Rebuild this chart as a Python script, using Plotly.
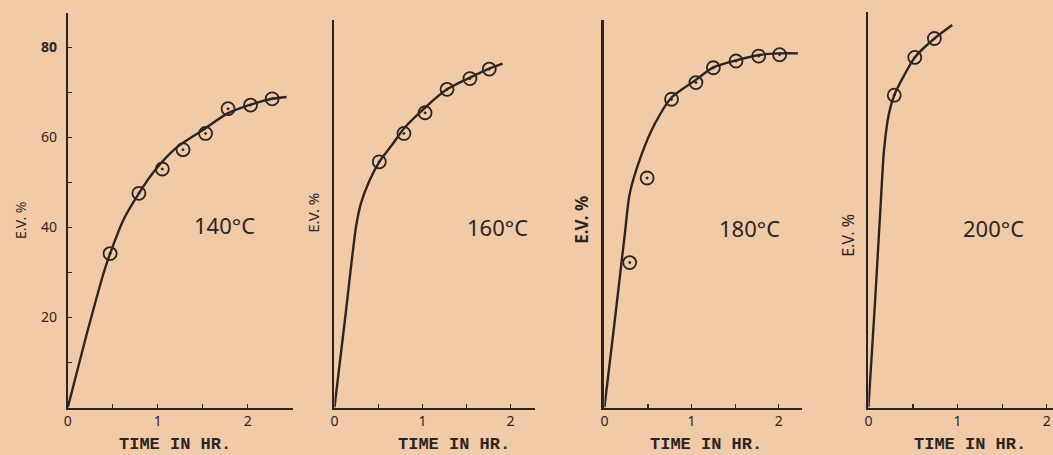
import plotly.graph_objects as go

# ---------------- data ----------------
temps = ["140°C", "160°C", "180°C", "200°C"]

# measured points (time in hr, E.V. %)
pts140_t = [0.47, 0.79, 1.05, 1.28, 1.53, 1.78, 2.03, 2.27]
pts140_y = [34.2, 47.6, 53.0, 57.3, 60.9, 66.4, 67.2, 68.6]
pts160_t = [0.51, 0.79, 1.03, 1.28, 1.54, 1.76]
pts160_y = [54.6, 60.9, 65.5, 70.7, 73.1, 75.2]
pts180_t = [0.29, 0.49, 0.77, 1.05, 1.25, 1.51, 1.77, 2.01]
pts180_y = [32.2, 51.0, 68.5, 72.2, 75.5, 77.0, 78.1, 78.4]
pts200_t = [0.29, 0.52, 0.74]
pts200_y = [69.4, 77.8, 82.0]

# drawn smooth curves
crv140_t = [0, 0.2, 0.4, 0.47, 0.62, 0.79, 0.96, 1.21, 1.51, 1.77, 2.03, 2.27, 2.43]
crv140_y = [0, 15.5, 30.0, 34.2, 41.8, 47.6, 52.5, 57.8, 61.8, 65.3, 67.3, 68.6, 69.0]
crv160_t = [0, 0.12, 0.245, 0.30, 0.40, 0.51, 0.66, 0.79, 1.04, 1.28, 1.54, 1.76, 1.91]
crv160_y = [0, 19.6, 40.1, 45.3, 50.5, 54.6, 58.5, 62.0, 66.8, 70.7, 73.3, 75.3, 76.4]
crv180_t = [0, 0.12, 0.235, 0.29, 0.43, 0.58, 0.77, 1.04, 1.25, 1.52, 1.80, 2.00, 2.22]
crv180_y = [0, 19.5, 38.7, 47.5, 56.4, 63.1, 68.9, 72.7, 75.6, 77.2, 78.4, 78.7, 78.7]
crv200_t = [0, 0.07, 0.14, 0.175, 0.23, 0.29, 0.40, 0.52, 0.74, 0.94]
crv200_y = [0, 22.0, 46.0, 57.2, 65.3, 69.4, 73.8, 77.8, 82.0, 85.0]

y_tickvals = [20, 40, 60, 80]
y_ticktext = ["20", "40", "60", "<b>80</b>"]
x_tickvals = [0, 1, 2]
x_ticktext = ["0", "1", "2"]
x_title = "TIME IN HR."
y_title = "E.V. %"

points = [(pts140_t, pts140_y), (pts160_t, pts160_y), (pts180_t, pts180_y), (pts200_t, pts200_y)]
curves = [(crv140_t, crv140_y), (crv160_t, crv160_y), (crv180_t, crv180_y), (crv200_t, crv200_y)]

# ---------------- styling / layout ----------------
W, H = 1053, 455
PAPER = "#f1caa8"
INK = "#2b2522"

# pixel geometry of each panel: (x0, x1, xmax, ytop)
panels = [
    (64.0, 290.0, 2.5, 13.0),
    (331.7, 532.7, 2.276, 20.0),
    (602.7, 800.7, 2.263, 20.0),
    (867.7, 1053.0, 2.07, 11.7),
]
Y0 = 407.5
PX_PER_UNIT = 4.5

fig = go.Figure()
for i, ((ct, cy), (pt, py)) in enumerate(zip(curves, points)):
    xa = "x" if i == 0 else f"x{i+1}"
    ya = "y" if i == 0 else f"y{i+1}"
    fig.add_trace(go.Scatter(x=ct, y=cy, mode="lines", xaxis=xa, yaxis=ya,
                             line=dict(color=INK, width=2.4, shape="spline", smoothing=0.7),
                             showlegend=False, hoverinfo="skip"))
    fig.add_trace(go.Scatter(x=pt, y=py, mode="markers", xaxis=xa, yaxis=ya,
                             marker=dict(symbol="circle-open-dot", size=13, color=INK,
                                         line=dict(color=INK, width=1.8)),
                             showlegend=False, hoverinfo="skip"))

layout = dict(width=W, height=H, margin=dict(l=0, r=0, t=0, b=0),
              paper_bgcolor=PAPER, plot_bgcolor=PAPER, showlegend=False)

for i, (x0, x1, xmax, ytop) in enumerate(panels):
    sx = "" if i == 0 else str(i + 1)
    ymax = (Y0 - ytop) / PX_PER_UNIT
    layout["xaxis" + sx] = dict(
        domain=[x0 / W, min(x1 / W, 1.0)], range=[0, xmax], anchor="y" + sx,
        showgrid=False, zeroline=False, showline=True, linecolor=INK, linewidth=2,
        tickvals=x_tickvals, ticktext=x_ticktext, ticks="inside", ticklen=4,
        tickwidth=1.2, tickcolor=INK,
        minor=dict(dtick=0.5, tick0=0, ticks="inside", ticklen=4, tickwidth=1.2, tickcolor=INK),
        tickfont=dict(family="Noto Sans, DejaVu Sans", size=14, color=INK),
        fixedrange=True)
    yax = dict(
        domain=[(H - Y0) / H, (H - ytop) / H], range=[0, ymax], anchor="x" + sx,
        showgrid=False, zeroline=False, showline=True, linecolor=INK,
        linewidth=3 if i == 2 else 2, fixedrange=True)
    if i == 0:
        yax.update(tickvals=y_tickvals, ticktext=y_ticktext, ticks="inside", ticklen=4,
                   tickwidth=1.2, tickcolor=INK, ticklabelstandoff=6,
                   minor=dict(dtick=10, tick0=0, ticks="inside", ticklen=4, tickwidth=1.2, tickcolor=INK),
                   tickfont=dict(family="Noto Sans, DejaVu Sans", size=14, color=INK))
    else:
        yax.update(showticklabels=False, ticks="")
    layout["yaxis" + sx] = yax

anns = []
time_x = [171.7, 451.7, 705.0, 970.0]
temp_pos = [(221, 225), (495, 227), (748, 228), (993, 228)]
ev_pos = [(17, 220, 14, False), (310, 213, 15, False), (580, 220, 17, True), (847, 235, 16, False)]
for i in range(4):
    anns.append(dict(x=time_x[i] / W, y=(H - 444) / H, xref="paper", yref="paper",
                     xanchor="center", yanchor="middle",
                     text=f"<b>{x_title}</b>", showarrow=False,
                     font=dict(family="Liberation Mono, DejaVu Sans Mono", size=17, color=INK)))
    tx, ty = temp_pos[i]
    anns.append(dict(x=tx / W, y=(H - ty) / H, xref="paper", yref="paper",
                     xanchor="center", yanchor="middle",
                     text=temps[i], showarrow=False,
                     font=dict(family="Noto Sans, DejaVu Sans", size=22, color=INK)))
    ex, ey, es, eb = ev_pos[i]
    anns.append(dict(x=ex / W, y=(H - ey) / H, xref="paper", yref="paper",
                     xanchor="center", yanchor="middle",
                     text=(f"<b>{y_title}</b>" if eb else y_title), textangle=-90, showarrow=False,
                     font=dict(family="Noto Sans, DejaVu Sans", size=es, color=INK)))
layout["annotations"] = anns

fig.update_layout(**layout)
fig.write_html("out.html", config={"displayModeBar": False, "staticPlot": True},
               post_script="document.body.style.margin='0';document.body.style.overflow='hidden';")
